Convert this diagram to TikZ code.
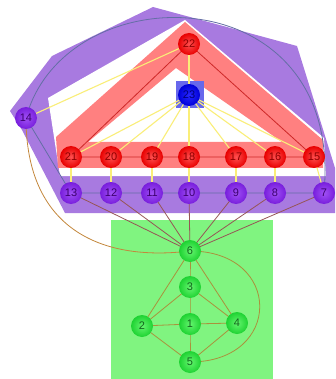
\documentclass[tikz,border=0pt]{standalone}
\usepackage{fontspec}
\setmainfont{Liberation Sans}
\pgfdeclarelayer{regions}
\pgfdeclarelayer{edges}
\pgfsetlayers{regions,edges,main}
\definecolor{purplereg}{RGB}{168,122,224}
\definecolor{redreg}{RGB}{255,128,128}
\definecolor{greenreg}{RGB}{128,244,128}
\definecolor{bluereg}{RGB}{104,104,236}
\definecolor{redin}{RGB}{255,80,80}
\definecolor{redout}{RGB}{232,0,0}
\definecolor{redtxt}{RGB}{140,0,0}
\definecolor{purin}{RGB}{160,80,245}
\definecolor{purout}{RGB}{120,30,220}
\definecolor{purtxt}{RGB}{60,0,110}
\definecolor{grnin}{RGB}{100,245,110}
\definecolor{grnout}{RGB}{30,210,50}
\definecolor{grntxt}{RGB}{20,100,30}
\definecolor{bluin}{RGB}{40,40,255}
\definecolor{bluout}{RGB}{0,0,215}
\definecolor{blutxt}{RGB}{0,0,120}
\definecolor{redline}{RGB}{205,40,40}
\definecolor{yelline}{RGB}{250,238,120}
\definecolor{purline}{RGB}{100,110,165}
\definecolor{hubline}{RGB}{150,85,85}
\definecolor{brnline}{RGB}{195,135,60}
\definecolor{oliline}{RGB}{170,145,60}
\begin{document}
\begin{tikzpicture}[x=1pt,y=-1pt,
  vtx/.style={circle, minimum size=22pt, inner sep=0pt, font=\fontsize{11}{11}\selectfont},
  rednode/.style={vtx, shading=radial, inner color=redin, outer color=redout, text=redtxt},
  purnode/.style={vtx, shading=radial, inner color=purin, outer color=purout, text=purtxt},
  grnnode/.style={vtx, shading=radial, inner color=grnin, outer color=grnout, text=grntxt},
  blunode/.style={vtx, shading=radial, inner color=bluin, outer color=bluout, text=blutxt},
  rededge/.style={draw=redline, line width=0.8pt},
  yeledge/.style={draw=yelline, line width=1.1pt},
  puredge/.style={draw=purline, line width=0.8pt},
  hubedge/.style={draw=hubline, line width=0.8pt},
  brnedge/.style={draw=brnline, line width=0.8pt},
  oliedge/.style={draw=oliline, line width=0.8pt}
]
\useasboundingbox (0,0) rectangle (335,379);
\begin{pgfonlayer}{regions}
\begin{scope}
\clip (0,0) rectangle (335,379);
% purple cluster
\fill[purplereg] (10,111) -- (52,56) -- (153,7) -- (297,46) -- (345,200) -- (345,213) -- (65,213) -- (22,130) -- cycle;
% white padding around red cluster
\fill[white] (185,20) -- (324,138) -- (326,176) -- (60,176) -- (48,98) -- cycle;
% red cluster
\fill[redreg, even odd rule] (185,22) -- (323,140) -- (323,168) -- (58,168) -- (56,137) -- cycle
  (176,68) -- (282,142) -- (88,142) -- cycle;
% green cluster
\fill[greenreg] (111,220) rectangle (273,379);
% blue cluster
\fill[bluereg] (176,81) rectangle (204,108);
\end{scope}
\end{pgfonlayer}

% nodes
\node[rednode] (n22) at (189,44) {22};
\node[blunode] (n23) at (189,95) {23};
\node[rednode] (n21) at (71,157) {21};
\node[rednode] (n20) at (111,157) {20};
\node[rednode] (n19) at (152,157) {19};
\node[rednode] (n18) at (189,157) {18};
\node[rednode] (n17) at (236,157) {17};
\node[rednode] (n16) at (275,157) {16};
\node[rednode] (n15) at (314,157) {15};
\node[purnode] (n14) at (26,118) {14};
\node[purnode] (n13) at (71,193) {13};
\node[purnode] (n12) at (111,193) {12};
\node[purnode] (n11) at (152,193) {11};
\node[purnode] (n10) at (189,193) {10};
\node[purnode] (n9) at (236,193) {9};
\node[purnode] (n8) at (275,193) {8};
\node[purnode] (n7) at (324,193) {7};
\node[grnnode] (n6) at (190,251) {6};
\node[grnnode] (n3) at (190,287) {3};
\node[grnnode] (n2) at (142,326) {2};
\node[grnnode] (n1) at (190,324) {1};
\node[grnnode] (n4) at (237,323) {4};
\node[grnnode] (n5) at (190,362) {5};

\begin{pgfonlayer}{edges}
% yellow edges
\foreach \t in {21,20,19,18,17,16,15,22} \draw[yeledge] (n23.center) -- (n\t.center);
\draw[yeledge] (n14.center) -- (n22.center);
\draw[yeledge] (n21.center) -- (n13.center);
\draw[yeledge] (n20.center) -- (n12.center);
\draw[yeledge] (n19.center) -- (n11.center);
\draw[yeledge] (n18.center) -- (n10.center);
\draw[yeledge] (n17.center) -- (n9.center);
\draw[yeledge] (n16.center) -- (n8.center);
\draw[yeledge] (n15.center) -- (n7.center);
% red edges
\draw[rededge] (n15.center) -- (n22.center) -- (n21.center) -- (n20.center) -- (n19.center) -- (n18.center) -- (n17.center) -- (n16.center) -- (n15.center);
% purple edges
\draw[puredge] (n14.center) -- (n13.center) -- (n12.center) -- (n11.center) -- (n10.center) -- (n9.center) -- (n8.center) -- (n7.center);
\draw[puredge] (n14.center) .. controls (65,-27) and (344,-26) .. (n7.center);
% hub edges
\foreach \t in {13,12,11,10,9,8,7} \draw[hubedge] (n6.center) -- (n\t.center);
\draw[brnedge] (n14.center) .. controls (26,228) and (100,262) .. (n6.center);
% green edges
\draw[oliedge] (n6.center) .. controls (283,251) and (283,362) .. (n5.center);
\draw[oliedge] (n6.center) -- (n3.center) -- (n1.center) -- (n5.center);
\draw[oliedge] (n6.center) -- (n2.center) -- (n5.center) -- (n4.center) -- (n6.center);
\draw[oliedge] (n2.center) -- (n3.center) -- (n4.center) -- (n1.center) -- (n2.center);
\end{pgfonlayer}
\end{tikzpicture}
\end{document}
